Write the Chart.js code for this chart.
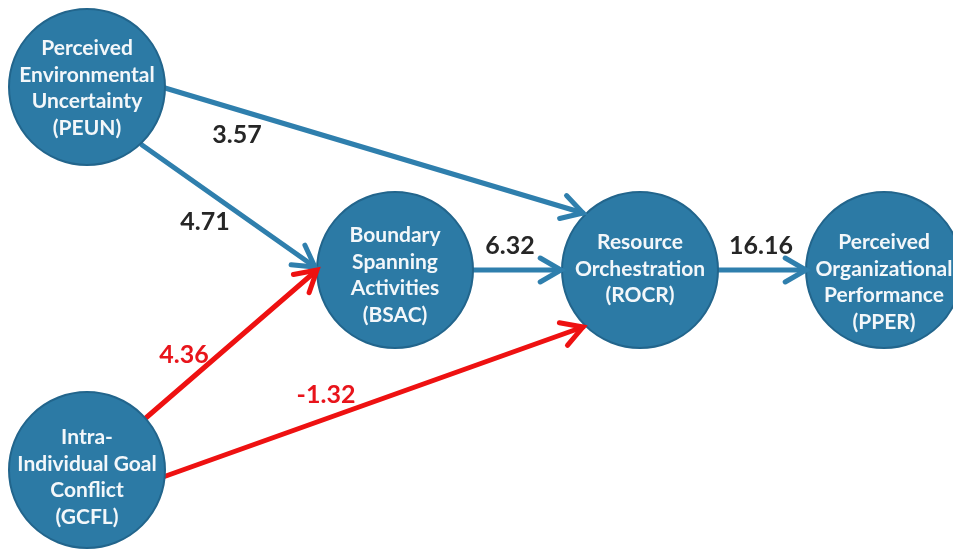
<!DOCTYPE html>
<html>
<head>
<meta charset="utf-8">
<script src="https://cdn.jsdelivr.net/npm/chart.js@4.4.1/dist/chart.umd.min.js"></script>
<style>
  html, body { margin: 0; padding: 0; background: #fff; }
  canvas { display: block; }
</style>
</head>
<body>
<canvas id="pathChart" width="953" height="549"></canvas>
<script>
// constructs of the model
const nodeIds = ['PEUN', 'BSAC', 'ROCR', 'PPER', 'GCFL'];
const nodeLabels = [
  ['Perceived', 'Environmental', 'Uncertainty', '(PEUN)'],
  ['Boundary', 'Spanning', 'Activities', '(BSAC)'],
  ['Resource', 'Orchestration', '(ROCR)'],
  ['Perceived', 'Organizational', 'Performance', '(PPER)'],
  ['Intra-', 'Individual Goal', 'Conflict', '(GCFL)']
];

// structural paths and their coefficients
const pathFrom = ['PEUN', 'PEUN', 'BSAC', 'ROCR', 'GCFL', 'GCFL'];
const pathTo   = ['ROCR', 'BSAC', 'ROCR', 'PPER', 'BSAC', 'ROCR'];
const pathCoef = [3.57, 4.71, 6.32, 16.16, 4.36, -1.32];

// layout, in canvas pixels (y goes down)
const nodeCenter = { PEUN: [87, 87], BSAC: [395, 270], ROCR: [640, 270], PPER: [884, 270], GCFL: [87, 470] };
const nodeTextMid = { PEUN: 88, BSAC: 275, ROCR: 269, PPER: 282, GCFL: 477 };
const nodeRadius = 78;
const pathStart = [[165, 88], [142, 145], [472, 270], [716, 270], [140, 423], [163, 477]];
const pathEnd   = [[583, 213], [315, 267], [561, 270], [806, 270], [317, 270], [583, 327]];
const labelAt   = [[237, 135], [205, 222], [510, 246], [761, 246], [184, 355], [326, 395]];

const blue = '#2F7FAD';
const red = '#EE1111';
const pathColor = src => src === 'GCFL' ? red : blue;
const labelColor = src => src === 'GCFL' ? '#E8141B' : '#262626';

const datasets = [];
datasets.push({
  label: 'constructs',
  data: nodeIds.map(id => ({ x: nodeCenter[id][0], y: nodeCenter[id][1] })),
  pointRadius: nodeRadius,
  pointHoverRadius: nodeRadius,
  backgroundColor: '#2C7AA5',
  borderColor: '#22658C',
  borderWidth: 2,
  order: 0
});
pathCoef.forEach((c, i) => {
  datasets.push({
    type: 'line',
    label: pathFrom[i] + '->' + pathTo[i],
    data: [{ x: pathStart[i][0], y: pathStart[i][1] }, { x: pathEnd[i][0], y: pathEnd[i][1] }],
    showLine: true,
    borderColor: pathColor(pathFrom[i]),
    borderWidth: 5,
    borderCapStyle: 'round',
    pointRadius: 0,
    order: 1
  });
});

// arrow heads, node text and coefficient labels
const pathDecor = {
  id: 'pathDecor',
  afterDatasetsDraw(chart) {
    const g = chart.ctx;
    const sx = chart.scales.x, sy = chart.scales.y;
    g.save();
    pathCoef.forEach((c, i) => {
      const x0 = sx.getPixelForValue(pathStart[i][0]), y0 = sy.getPixelForValue(pathStart[i][1]);
      const x1 = sx.getPixelForValue(pathEnd[i][0]), y1 = sy.getPixelForValue(pathEnd[i][1]);
      const a = Math.atan2(y1 - y0, x1 - x0);
      const len = 24, spread = Math.PI / 6;
      g.strokeStyle = pathColor(pathFrom[i]);
      g.lineWidth = 5;
      g.lineCap = 'round';
      g.lineJoin = 'miter';
      g.beginPath();
      g.moveTo(x1 - len * Math.cos(a - spread), y1 - len * Math.sin(a - spread));
      g.lineTo(x1, y1);
      g.lineTo(x1 - len * Math.cos(a + spread), y1 - len * Math.sin(a + spread));
      g.stroke();

      g.fillStyle = labelColor(pathFrom[i]);
      g.font = 'bold 25px Lato, "Open Sans", sans-serif';
      g.textAlign = 'center';
      g.textBaseline = 'middle';
      g.fillText(c.toFixed(2), sx.getPixelForValue(labelAt[i][0]), sy.getPixelForValue(labelAt[i][1]));
    });

    g.fillStyle = '#F3F7FA';
    g.font = 'bold 21px Lato, "Open Sans", sans-serif';
    g.textAlign = 'center';
    g.textBaseline = 'middle';
    const lh = 26.5;
    nodeIds.forEach((id, k) => {
      const lines = nodeLabels[k];
      const cx = sx.getPixelForValue(nodeCenter[id][0]);
      const top = sy.getPixelForValue(nodeTextMid[id]) - (lines.length - 1) * lh / 2;
      lines.forEach((t, j) => g.fillText(t, cx, top + j * lh));
    });
    g.restore();
  }
};

const ctx = document.getElementById('pathChart').getContext('2d');
const pathChart = new Chart(ctx, {
  type: 'scatter',
  data: { datasets: datasets },
  options: {
    responsive: false,
    animation: false,
    events: [],
    layout: { padding: 0, autoPadding: false },
    plugins: { legend: { display: false }, tooltip: { enabled: false } },
    scales: {
      x: { type: 'linear', min: 0, max: 953, display: false },
      y: { type: 'linear', min: 0, max: 549, reverse: true, display: false }
    }
  },
  plugins: [pathDecor]
});
</script>
</body>
</html>
